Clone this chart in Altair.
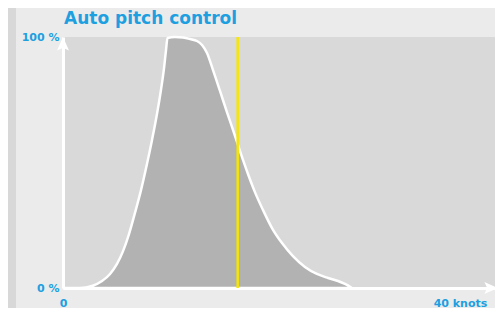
import altair as alt
import pandas as pd

# Data
knots = [0, 1.71, 2.92, 3.93, 4.74, 5.44, 6.05, 6.65, 7.25, 7.86, 8.46, 8.97, 9.47,
         9.87, 10.18, 10.38, 10.53, 11.28, 12.09, 12.80, 13.50, 14.01, 14.51, 15.11,
         15.82, 16.52, 17.23, 17.93, 18.64, 19.34, 20.15, 21.06, 22.07, 23.17, 24.38,
         25.59, 26.70, 27.71, 28.41, 29.12]
percent = [0, 0, 0.8, 2.8, 5.6, 9.6, 14.7, 21.5, 29.9, 39.0, 49.4, 59.0, 69.3,
           78.9, 87.6, 94.8, 99.6, 100, 99.8, 99.2, 98.4, 96.8, 93.6, 86.9,
           78.5, 70.1, 61.8, 53.4, 45.4, 38.2, 31.1, 23.9, 17.9, 12.7, 8.4,
           5.6, 4.0, 2.8, 1.6, 0]
marker_knots = [17.6]
x_ticks = [0, 40]
x_tick_labels = ["0", "40 knots"]
y_ticks = [0, 100]
y_tick_labels = ["0 %", "100 %"]
title_text = ["Auto pitch control"]
x_max = 43.53

BLUE = "#1e9fe0"
FONT = "DejaVu Sans"

df = pd.DataFrame({"knots": knots, "percent": percent})
mk = pd.DataFrame({"knots": marker_knots})
tt = pd.DataFrame({"t": title_text})

xscale = alt.Scale(domain=[0, x_max], nice=False, zero=False)
yscale = alt.Scale(domain=[0, 100], nice=False)

xlab = "datum.value == 40 ? '" + x_tick_labels[1] + "' : '" + x_tick_labels[0] + "'"
ylab = "datum.value == 100 ? '" + y_tick_labels[1] + "' : '" + y_tick_labels[0] + "'"

area = alt.Chart(df).mark_area(
    interpolate="monotone", color="#b1b2b1", stroke="white", strokeWidth=2.5
).encode(
    x=alt.X("knots:Q", scale=xscale, axis=alt.Axis(
        values=x_ticks, labelExpr=xlab, title=None, grid=False, ticks=False,
        labelFlush=False,
        domainColor="white", domainWidth=3, labelColor=BLUE, labelFont=FONT,
        labelFontSize=11, labelFontWeight="bold", labelPadding=9)),
    y=alt.Y("percent:Q", scale=yscale, axis=alt.Axis(
        values=y_ticks, labelExpr=ylab, title=None, grid=False, ticks=False,
        labelFlush=False,
        domainColor="white", domainWidth=3, labelColor=BLUE, labelFont=FONT,
        labelFontSize=11, labelFontWeight="bold", labelPadding=4)),
)

marker = alt.Chart(mk).mark_rule(color="#f7e600", strokeWidth=2.5).encode(
    x=alt.X("knots:Q", scale=xscale)
)

strip = alt.Chart(mk).mark_rect(color="#d8d8d8").encode(
    x=alt.value(-55), x2=alt.value(-47), y=alt.value(-29), y2=alt.value(300)
)

title = alt.Chart(tt).mark_text(
    align="left", baseline="alphabetic", color=BLUE, font=FONT,
    fontSize=17, fontWeight="bold"
).encode(x=alt.value(1), y=alt.value(-13), text="t:N")

yarrow = alt.Chart(mk).mark_point(
    shape="M0,-1L0.75,0.7L0,0.35L-0.75,0.7Z", filled=True, color="white",
    opacity=1, size=256, yOffset=8
).encode(x=alt.datum(0, scale=xscale), y=alt.datum(100, scale=yscale))

xarrow = alt.Chart(mk).mark_point(
    shape="M1,0L-0.7,0.75L-0.35,0L-0.7,-0.75Z", filled=True, color="white",
    opacity=1, size=256, xOffset=-5
).encode(x=alt.datum(x_max, scale=xscale), y=alt.datum(0, scale=yscale))

chart = alt.layer(strip, area, marker, yarrow, xarrow, title).properties(
    width=432, height=251,
    autosize=alt.AutoSizeParams(type="none"),
    padding={"left": 55, "top": 29, "right": 0, "bottom": 20},
    background="#ebebeb",
).configure_view(fill="#d9d9d9", stroke=None)

chart.save("out.html", embed_options={"renderer": "svg", "actions": False})
